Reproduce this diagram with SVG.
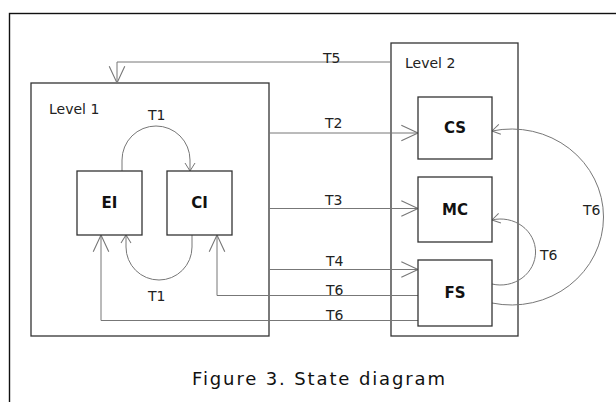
<svg xmlns="http://www.w3.org/2000/svg" width="616" height="402" viewBox="0 0 616 402">
<defs>
<style>
.frame{fill:none;stroke:#111;stroke-width:1.4}
.box{fill:#fff;stroke:#333;stroke-width:1.3}
.cont{fill:none;stroke:#333;stroke-width:1.3}
.c{fill:none;stroke:#777;stroke-width:1}
.lbl{font-family:"DejaVu Sans",Verdana,sans-serif;font-size:14px;fill:#222}
.nd{font-family:"DejaVu Sans",Verdana,sans-serif;font-size:15px;font-weight:bold;fill:#111;text-anchor:middle}
.cap{font-family:"DejaVu Sans",Verdana,sans-serif;font-size:18px;fill:#111}
</style>
<marker id="big" markerUnits="userSpaceOnUse" markerWidth="20" markerHeight="20" viewBox="-16 -8 18 16" refX="0" refY="0" orient="auto">
<path d="M-15,-7 L0,0 L-15,7" fill="none" stroke="#777" stroke-width="1"/>
</marker>
<marker id="sm" markerUnits="userSpaceOnUse" markerWidth="12" markerHeight="12" viewBox="-10 -6 12 12" refX="0" refY="0" orient="auto">
<path d="M-8,-5 L0,0 L-8,5" fill="none" stroke="#777" stroke-width="1"/>
</marker>
</defs>
<rect x="0" y="0" width="616" height="402" fill="#fff"/>
<rect class="frame" x="9.5" y="13.5" width="640" height="420"/>
<g id="level1">
<rect class="cont" x="31" y="83" width="238" height="253"/>
<text class="lbl" x="49" y="114">Level 1</text>
</g>
<g id="level2">
<rect class="cont" x="391" y="43" width="127" height="293"/>
<text class="lbl" x="405" y="68">Level 2</text>
</g>
<g id="connectors">
<path class="c" d="M122,171 L122,160 A34,34 0 0 1 190,160 L190,171" marker-end="url(#sm)"/>
<path class="c" d="M192,235 L192,247 A33,33 0 0 1 126,247 L126,235" marker-end="url(#sm)"/>
<path class="c" d="M391,62 L117,62 L117,83" marker-end="url(#big)"/>
<path class="c" d="M269,133 L418,133" marker-end="url(#big)"/>
<path class="c" d="M269,208.5 L418,208.5" marker-end="url(#big)"/>
<path class="c" d="M269,269.5 L418,269.5" marker-end="url(#big)"/>
<path class="c" d="M418,295.5 L217,295.5 L217,235" marker-end="url(#big)"/>
<path class="c" d="M418,320.5 L101,320.5 L101,235" marker-end="url(#big)"/>
<path class="c" d="M492,303 A92,88 0 1 0 492,131" marker-end="url(#sm)"/>
<path class="c" d="M492,284 A35,33 0 1 0 492,220" marker-end="url(#sm)"/>
<text class="lbl" x="148" y="120">T1</text>
<text class="lbl" x="148" y="301">T1</text>
<text class="lbl" x="323" y="63">T5</text>
<text class="lbl" x="325" y="128">T2</text>
<text class="lbl" x="325" y="205">T3</text>
<text class="lbl" x="326" y="266">T4</text>
<text class="lbl" x="326" y="295">T6</text>
<text class="lbl" x="326" y="320">T6</text>
<text class="lbl" x="540" y="260">T6</text>
<text class="lbl" x="583" y="215">T6</text>
</g>
<g id="EI">
<rect class="box" x="77" y="171" width="65" height="64"/>
<text class="nd" x="109.5" y="208">EI</text>
</g>
<g id="CI">
<rect class="box" x="167" y="171" width="65" height="64"/>
<text class="nd" x="199.5" y="208">CI</text>
</g>
<g id="CS">
<rect class="box" x="418" y="97" width="74" height="62"/>
<text class="nd" x="455" y="133">CS</text>
</g>
<g id="MC">
<rect class="box" x="418" y="177" width="74" height="65"/>
<text class="nd" x="455" y="215">MC</text>
</g>
<g id="FS">
<rect class="box" x="418" y="260" width="74" height="66"/>
<text class="nd" x="455" y="298">FS</text>
</g>
<text class="cap" x="192" y="385" textLength="253" lengthAdjust="spacing">Figure 3. State diagram</text>
</svg>
